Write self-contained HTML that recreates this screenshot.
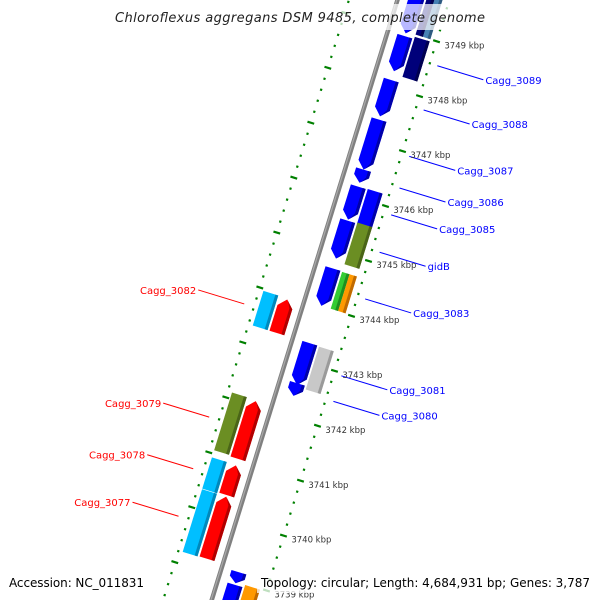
<!DOCTYPE html>
<html><head><meta charset="utf-8"><style>
html,body{margin:0;padding:0;background:#fff;overflow:hidden;width:600px;height:600px;}
svg{display:block;overflow:hidden;}
</style></head><body>
<svg id="chart" width="600" height="600" viewBox="0 0 600 600" xmlns="http://www.w3.org/2000/svg">
<rect x="0" y="0" width="600" height="600" fill="#fff"/>
<g id="track" transform="translate(398,0) rotate(17.2)"></g>
<g id="labels"></g>
<g id="ticklabels"></g>
<rect x="112" y="4" width="376" height="26" fill="#fff" fill-opacity="0.72"/>
<text x="300" y="22" text-anchor="middle" font-family="DejaVu Sans, sans-serif" font-style="italic" font-size="13" fill="#222" textLength="370">Chloroflexus aggregans DSM 9485, complete genome</text>
<rect x="5" y="572" width="145" height="21" fill="#fff" fill-opacity="0.75"/>
<text x="9" y="587" font-family="DejaVu Sans, sans-serif" font-size="12" fill="#000" textLength="135">Accession: NC_011831</text>
<rect x="257" y="572" width="338" height="21" fill="#fff" fill-opacity="0.75"/>
<text x="261" y="587" font-family="DejaVu Sans, sans-serif" font-size="12" fill="#000" textLength="329">Topology: circular; Length: 4,684,931 bp; Genes: 3,787</text>
</svg>
<script>
const tickStart = 3737;
const tickEnd = 3752;
const geneStart = [3748.97,3749.0,3749.0,3748.28,3748.23,3747.46,3746.49,3746.25,3745.58,3745.55,3744.87,3744.82,3744.01,3744.01,3744.01,3742.57,3742.37,3742.54,3743.33,3743.33,3741.06,3741.04,3740.36,3740.38,3739.21,3739.22,3738.96,3737.3,3737.3];
const geneEnd   = [3750.8,3750.8,3750.8,3748.92,3748.96,3748.12,3747.40,3746.49,3746.18,3746.19,3745.56,3745.58,3744.69,3744.68,3744.68,3743.33,3742.60,3743.32,3743.96,3743.94,3742.11,3742.09,3740.93,3740.92,3740.35,3740.35,3739.16,3738.93,3738.98];
const geneLane  = ['RI','ROa','ROb','RI','RO','RI','RI','RI','RI','RO','RI','RO','RI','ROa','ROb','RI','RI','RO','LO','LI','LO','LI','LO','LI','LO','LI','RI','RI','RO'];
const geneColor = ['blue','navy','steelblue','blue','navy','blue','blue','blue','blue','blue','blue','olive','blue','green','orange','blue','blue','gray','cyan','red','olive','red','cyan','red','cyan','red','blue','blue','orange'];
const geneDir   = ['down','none','none','down','none','down','down','down','down','none','down','none','down','none','none','down','down','none','none','up','none','up','none','up','none','up','down','down','none'];
const labelText = ['Cagg_3089','Cagg_3088','Cagg_3087','Cagg_3086','Cagg_3085','gidB','Cagg_3083','Cagg_3081','Cagg_3080','Cagg_3082','Cagg_3079','Cagg_3078','Cagg_3077'];
const labelGene = [4,5,6,7,8,11,12,15,16,18,20,22,24];

const NS='http://www.w3.org/2000/svg';
const TH=17.2*Math.PI/180, S=Math.sin(TH), C=Math.cos(TH), OX=398, OY=0;
const PX_PER_KBP=57.5, REF_KBP=3749, REF_V=27.9;
function V(k){return REF_V+(REF_KBP-k)*PX_PER_KBP;}
function toScreen(u,v){return [OX+u*C-v*S, OY+u*S+v*C];}
const palette={blue:['#0000ff','#0000a8'],navy:['#00007a','#000050'],steelblue:['#4682b4','#2e5a80'],olive:['#6b8e23','#4a6418'],green:['#33cc33','#1f8f1f'],orange:['#ff9900','#c06a00'],gray:['#c8c8c8','#9a9a9a'],cyan:['#00bfff','#0088bb'],red:['#ff0000','#b00000']};
const lanes={RI:[9.5,25],RO:[27,42.5],ROa:[27,34.75],ROb:[34.75,42.5],LI:[-25,-9.5],LO:[-42.5,-27]};
const track=document.getElementById('track');
function mk(tag,attrs,parent){const e=document.createElementNS(NS,tag);for(const k in attrs)e.setAttribute(k,attrs[k]);(parent||track).appendChild(e);return e;}

let bb=mk('line',{x1:-0.5,y1:-100,x2:-0.5,y2:700,stroke:'#808080','stroke-width':4.5});


let bb2=mk('line',{x1:-1.2,y1:-100,x2:-1.2,y2:700,stroke:'#a8a8a8','stroke-width':1.2});



const tl=document.getElementById('ticklabels');
for(let i=Math.round(tickStart*5);i<=Math.round(tickEnd*5);i++){
  const k=i/5, v=V(k), major=(i%5===0);
  [-47,49].forEach(function(u){
    let r;
    if(major){r=mk('rect',{x:u-3.5,y:v-1,width:7,height:2.2,fill:'#008000'});
      }
    else{r=mk('rect',{x:u-1,y:v-1,width:2.2,height:2.2,fill:'#008000'});
      }
    
  });
  if(major){
    const p=toScreen(53,v);
    if(p[1]>-10 && p[1]<610){
      const t=mk('text',{x:p[0]+4,y:p[1]+6,'font-family':'DejaVu Sans, sans-serif','font-size':'8.5',fill:'#333'},tl);
      t.textContent=k+' kbp';
      
      
    }
  }
}

for(let i=0;i<geneStart.length;i++){
  const v1=V(geneEnd[i]), v2=V(geneStart[i]);
  const [u0,u1]=lanes[geneLane[i]], uc=(u0+u1)/2;
  const col=palette[geneColor[i]];
  const len=v2-v1, h=Math.min(8,len*0.5);
  let pts, side;
  if(geneDir[i]==='down'){
    pts=[[u0,v1],[u1,v1],[u1,v2-h],[uc,v2],[u0,v2-h]];
    side=[[u1-3,v1],[u1,v1],[u1,v2-h],[uc+1,v2-1],[u1-3,v2-h]];
  }else if(geneDir[i]==='up'){
    pts=[[uc,v1],[u1,v1+h],[u1,v2],[u0,v2],[u0,v1+h]];
    side=[[uc+1,v1+1],[u1,v1+h],[u1,v2],[u1-3,v2],[u1-3,v1+h]];
  }else{
    pts=[[u0,v1],[u1,v1],[u1,v2],[u0,v2]];
    side=[[u1-3,v1],[u1,v1],[u1,v2],[u1-3,v2]];
  }
  const g=mk('g',{});
  
  
  mk('polygon',{points:pts.map(p=>p.join(',')).join(' '),fill:col[0]},g);
  mk('polygon',{points:side.map(p=>p.join(',')).join(' '),fill:col[1]},g);
}

const lg=document.getElementById('labels');
for(let j=0;j<labelText.length;j++){
  const gi=labelGene[j];
  const right=geneLane[gi][0]==='R';
  const vm=V((geneStart[gi]+geneEnd[gi])/2);
  const p=toScreen(right?57:-57,vm);
  const ex=p[0]+(right?46:-46), ey=p[1]+(right?14:-14);
  const col=right?'#0000ff':'#ff0000';
  const ln=mk('line',{x1:p[0],y1:p[1],x2:ex,y2:ey,stroke:col,'stroke-width':1},lg);
  
  
  const t=mk('text',{x:ex+(right?2:-2),y:ey+4,'text-anchor':right?'start':'end','font-family':'DejaVu Sans, sans-serif','font-size':'10',fill:col},lg);
  t.textContent=labelText[j];
  
  
}
</script>
</body></html>
